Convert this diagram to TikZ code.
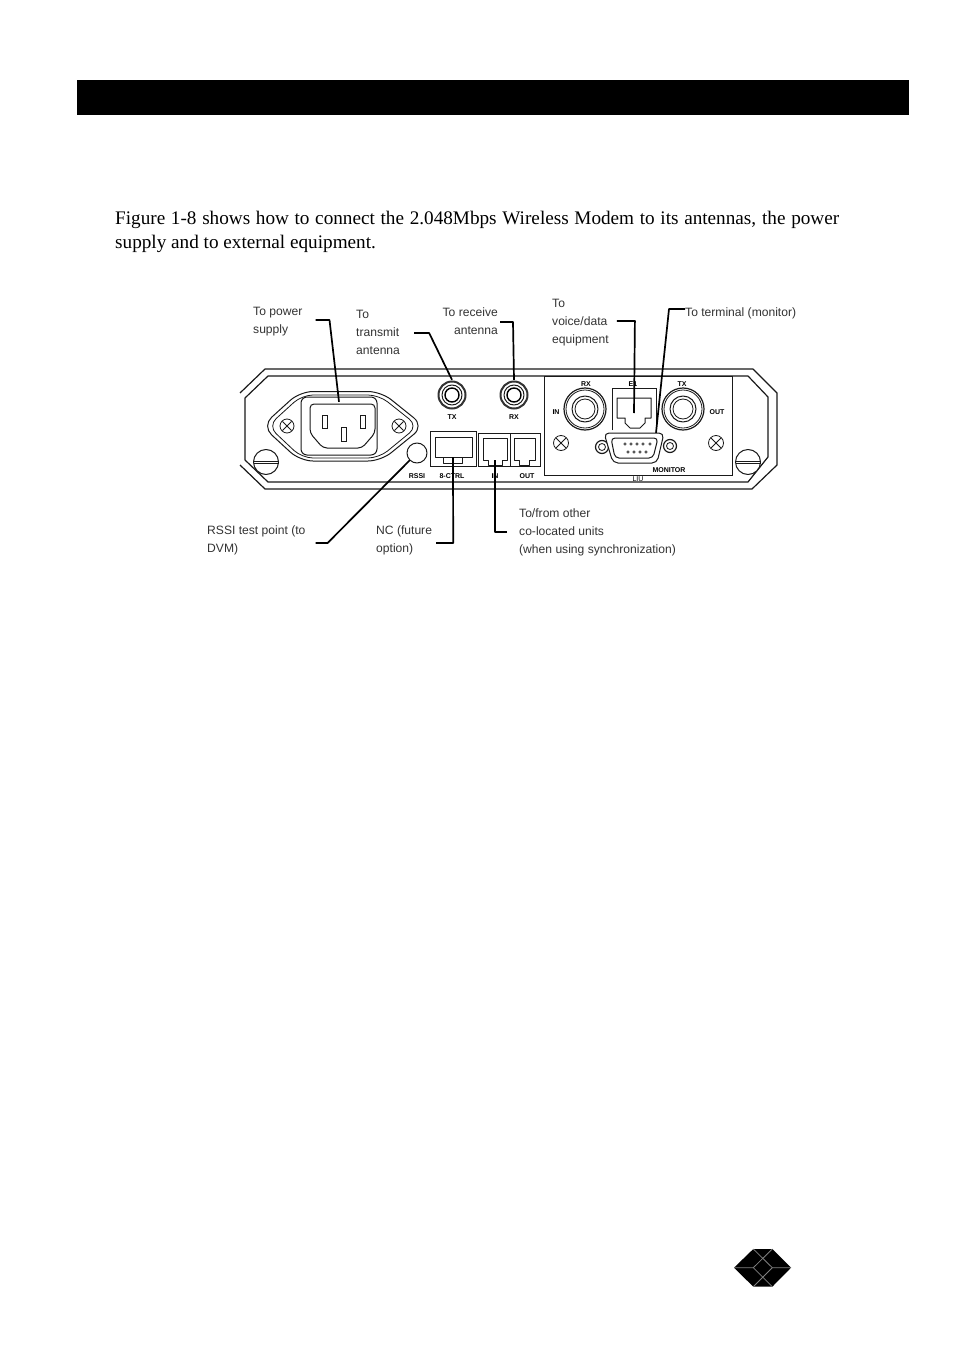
\documentclass[tikz,border=0pt]{standalone}
\usepackage{fontspec}
\setmainfont{Liberation Serif}
\newfontfamily\lblfont{Liberation Sans}
\usetikzlibrary{calc}
\definecolor{ink}{HTML}{1A1A1A}
\definecolor{labelink}{HTML}{333333}
\tikzset{
  panelline/.style={draw=ink,line width=1pt,line join=round},
  thinline/.style={draw=ink,line width=.8pt},
  lead/.style={draw=black,line width=1.7pt,line join=round},
  calllabel/.style={font=\lblfont\fontsize{12.1}{18}\selectfont,text=labelink,align=left,anchor=west,inner sep=0pt},
  tinylabel/.style={font=\lblfont\bfseries\fontsize{7}{7}\selectfont,text=black,inner sep=0pt},
  bodytext/.style={anchor=base west,inner sep=0pt,text=black,font=\fontsize{19.2}{24}\selectfont},
  port/.style={circle,inner sep=0pt,minimum size=#1},
  box/.style={rectangle,inner sep=0pt,minimum width=#1},
}
\newcommand{\xscrew}[3]{%
  \draw[thinline] (#1,#2) circle[radius=#3];
  \draw[thinline] ($(#1,#2)+(-.65*#3,-.65*#3)$) -- ($(#1,#2)+(.65*#3,.65*#3)$);
  \draw[thinline] ($(#1,#2)+(-.65*#3,.65*#3)$) -- ($(#1,#2)+(.65*#3,-.65*#3)$);}
\newcommand{\slotscrew}[2]{%
  \draw[panelline,fill=white] (#1,#2) circle[radius=12.5];
  \draw[thinline] (#1-12.5,#2-1) -- (#1+12.5,#2-1);
  \draw[thinline] (#1-12.5,#2+1.5) -- (#1+12.5,#2+1.5);}
\newcommand{\smallcoax}[2]{%
  \draw[draw=black!80,line width=2pt,fill=white] (#1,#2) circle[radius=13.5];
  \draw[panelline] (#1,#2) circle[radius=10];
  \draw[line width=1.4pt,draw=black] (#1,#2) circle[radius=7];}
\newcommand{\bigcoax}[2]{%
  \draw[line width=1.2pt,draw=ink,fill=white] (#1,#2) circle[radius=21];
  \draw[thinline] (#1,#2) circle[radius=19];
  \draw[panelline] (#1,#2) circle[radius=13];
  \draw[thinline] (#1,#2) circle[radius=10];}
\newcommand{\hexscrew}[2]{%
  \draw[line width=1.2pt,draw=ink] (#1,#2) circle[radius=6.5];
  \draw[thinline] (#1,#2) circle[radius=3.5];}
\begin{document}
\begin{tikzpicture}[x=1pt,y=-1pt]
\useasboundingbox (0,0) rectangle (954,1351);
\fill[white] (0,0) rectangle (954,1351);
% header bar
\fill[black] (77,80) rectangle (909,115);
% body text
\node[bodytext] (body1) at (115,224)
  {\hbox to 724pt{Figure 1-8 shows how to connect the 2.048Mbps Wireless Modem to its antennas, the power}};
\node[bodytext] (body2) at (115,248) {supply and to external equipment.};
% panel
\draw[panelline,line width=1.2pt] (240,393) -- (265,369) -- (753,369) -- (777,393) -- (777,465) -- (752,489) -- (265,489) -- (240,465);
\draw[panelline,line width=1.2pt] (268,376) -- (748,376) -- (768,397) -- (768,457) -- (748,482) -- (268,482) -- (245,460) -- (245,398) -- cycle;
\slotscrew{266}{462}
\slotscrew{748}{462}
% power inlet
\draw[panelline,rounded corners=13pt] (262,426) -- (300,391.5) -- (381,391.5) -- (424,426) -- (381,461) -- (300,461) -- cycle;
\draw[thinline,rounded corners=11pt] (268,426) -- (302,395) -- (379,395) -- (418,426) -- (379,458) -- (302,458) -- cycle;
\draw[panelline,fill=white,rounded corners=6pt] (301,397) rectangle (377,455);
\node[box=76,minimum height=58] (inlet) at (339,426) {};
\draw[panelline,rounded corners=4pt] (310,404) -- (375,404) -- (375,433) -- (362,448) -- (323,448) -- (310,433) -- cycle;
\draw[thinline] (322,415) rectangle (327,428);
\draw[thinline] (360,415) rectangle (365,428);
\draw[thinline] (341,427) rectangle (346,441);
\xscrew{287}{426}{7}
\xscrew{399}{426}{7}
% RSSI test point
\draw[panelline] (417,453) circle[radius=10];
\node[port=20] (rssi) at (417,453) {};
% small coaxes
\smallcoax{452}{395}
\node[port=30] (txport) at (452,395) {};
\smallcoax{514}{395}
\node[port=30] (rxport) at (514,395) {};
\node[tinylabel] (ltx) at (452,417) {TX};
\node[tinylabel] (lrx) at (514,417) {RX};
\node[tinylabel] (lrssi) at (417,476) {RSSI};
\node[tinylabel] (lq) at (452,476) {8-CTRL};
\node[tinylabel] (lin) at (495,476) {IN};
\node[tinylabel] (lout) at (527,476) {OUT};
% Q-CTRL and sync jacks
\draw[thinline] (430,431) rectangle (476,466);
\draw[panelline] (435,437) -- (472,437) -- (472,457) -- (462,457) -- (462,463) -- (443,463) -- (443,457) -- (435,457) -- cycle;
\draw[thinline] (443,457) -- (462,457);
\node[box=37,minimum height=20] (qjack) at (453,447) {};
\draw[thinline] (478,433) rectangle (510,466);
\draw[thinline] (510,433) rectangle (540,466);
\draw[panelline] (483,438) -- (507,438) -- (507,460) -- (502,460) -- (502,465) -- (488,465) -- (488,460) -- (483,460) -- cycle;
\node[box=24,minimum height=22] (injack) at (495,449) {};
\draw[panelline] (514,438) -- (535,438) -- (535,460) -- (529,460) -- (529,465) -- (519,465) -- (519,460) -- (514,460) -- cycle;
% LIU module
\draw[thinline] (544,376) rectangle (732,475);
\bigcoax{585}{409}
\bigcoax{683}{409}
\draw[thinline] (612,430) -- (612,388) -- (656,388) -- (656,430);
\draw[panelline] (617,398) -- (651,398) -- (651,418) -- (645,418) -- (645,423) -- (640,428) -- (630,428) -- (625,423) -- (625,418) -- (617,418) -- cycle;
\node[box=34,minimum height=30] (e1jack) at (634,413) {};
\xscrew{561}{443}{7.5}
\xscrew{716}{443}{7.5}
\hexscrew{602}{447}
\hexscrew{670}{446}
\draw[panelline,fill=white,rounded corners=5pt] (604,433) -- (664,433) -- (657,463) -- (613,463) -- cycle;
\draw[panelline,rounded corners=4pt] (611,438) -- (658,438) -- (653,458) -- (615,458) -- cycle;
\node[box=58,minimum height=30] (db9) at (634,448) {};
\foreach \px in {625,631,637,643,650} \draw[thinline,line width=.6pt] (\px,444) circle[radius=1.3];
\foreach \px in {628,634,640,646} \draw[thinline,line width=.6pt] (\px,452) circle[radius=1.3];
\node[tinylabel] (lrx2) at (586,384) {RX};
\node[tinylabel] (le1) at (633,384) {E1};
\node[tinylabel] (ltx2) at (682,384) {TX};
\node[tinylabel] (lin2) at (556,412) {IN};
\node[tinylabel] (lout2) at (717,412) {OUT};
\node[tinylabel] (lmon) at (669,470) {MONITOR};
\node[tinylabel,font=\lblfont\fontsize{7}{7}\selectfont] (lliu) at (638,479) {LIU};
% call-out labels
\node[calllabel] (tpower) at (253,321.5) {To power\\supply};
\node[calllabel] (ttx) at (356,332) {To\\transmit\\antenna};
\node[calllabel,align=right,anchor=east] (trx) at (498,321) {To receive\\antenna\hspace{1pt}};
\node[calllabel] (tvoice) at (552,322.5) {To\\voice/data\\equipment};
\node[calllabel] (tterm) at (685,313) {To terminal (monitor)};
\node[calllabel] (trssi) at (207,540) {RSSI test point (to\\DVM)};
\node[calllabel] (tnc) at (376,540) {NC (future\\option)};
\node[calllabel] (tsync) at (519,532) {To/from other\\co-located units\\(when using synchronization)};
% connectors
\draw[lead] ([xshift=13pt,yshift=1.5pt]tpower.east) -- ++(14,0) -- ([yshift=-5pt]inlet.north);
\draw[lead] ([xshift=14pt,yshift=-1pt]ttx.east) -- ++(15,0) -- (txport.north);
\draw[lead] ([xshift=2pt,yshift=-1pt]trx.east) -- ++(13,0) -- (rxport.north);
\draw[lead] ([xshift=8pt,yshift=1.5pt]tvoice.east) -- ++(18,0) -- (e1jack.center);
\draw[lead] ([yshift=4pt]tterm.west) -- ++(-16,0) -- ([xshift=22pt]db9.north);
\draw[lead] ([xshift=10pt,yshift=-3pt]trssi.east) -- ++(12,0) -- (rssi.south west);
\draw[lead] ([xshift=4pt,yshift=-3pt]tnc.east) -- ++(17,0) -- (qjack.south);
\draw[lead] ([xshift=-12pt]tsync.west) -- ++(-12,0) -- (injack.south);
% logo
\fill[black] (734,1267.7) -- (753.3,1249) -- (772.3,1249) -- (791,1267.7) -- (772.3,1286.7) -- (753.3,1286.7) -- cycle;
\draw[gray,line width=.8pt] (734,1267.7) -- (753.3,1267.7) -- (772.3,1286.7);
\draw[gray,line width=.8pt] (753.3,1286.7) -- (772.3,1267.7) -- (791,1267.7);
\draw[gray,line width=.8pt] (753.3,1249) -- (772.3,1267.7);
\draw[gray,line width=.8pt] (772.3,1249) -- (753.3,1267.7);
\end{tikzpicture}
\end{document}
